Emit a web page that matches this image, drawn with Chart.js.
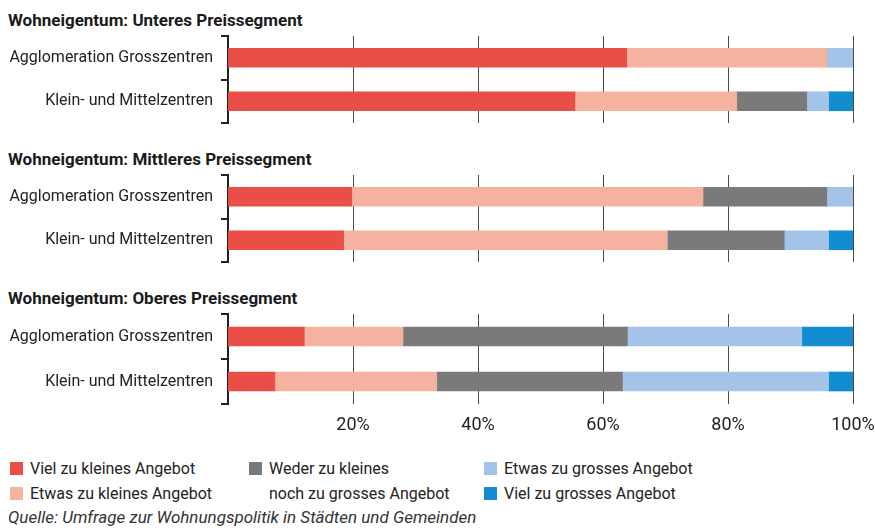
<!DOCTYPE html>
<html>
<head>
<meta charset="utf-8">
<script src="https://cdn.jsdelivr.net/npm/chart.js@4.4.0/dist/chart.umd.min.js"></script>
<style>
  body { margin: 0; background: #fff; font-family: Roboto, "Noto Sans", sans-serif; color: #222; }
  #wrap { position: relative; width: 875px; height: 532px; overflow: hidden; }
  .title { position: absolute; left: 8px; font-weight: bold; font-size: 17px; line-height: 20px; white-space: nowrap; color: #1a1a1a; }
  canvas { position: absolute; left: 0; }
  .leg { position: absolute; font-size: 16px; line-height: 25px; white-space: nowrap; }
  .leg i { position: absolute; left: 0; top: 6px; width: 13px; height: 13px; }
  .leg span { display: block; padding-left: 20px; }
  #source { position: absolute; left: 8px; top: 507px; font-style: italic; font-size: 17px; color: #333; white-space: nowrap; }
</style>
</head>
<body>
<div id="wrap">
  <div class="title" id="t0" style="top:10px"></div>
  <canvas id="c0" width="875" height="93" style="top:33px"></canvas>
  <div class="title" id="t1" style="top:149px"></div>
  <canvas id="c1" width="875" height="93" style="top:172px"></canvas>
  <div class="title" id="t2" style="top:288px"></div>
  <canvas id="c2" width="875" height="130" style="top:311px"></canvas>
  <div id="legend"></div>
  <div id="source">Quelle: Umfrage zur Wohnungspolitik in Städten und Gemeinden</div>
</div>
<script>
const segments = ['Wohneigentum: Unteres Preissegment', 'Wohneigentum: Mittleres Preissegment', 'Wohneigentum: Oberes Preissegment'];
const cities = ['Agglomeration Grosszentren', 'Klein- und Mittelzentren'];
const answers = ['Viel zu kleines Angebot', 'Etwas zu kleines Angebot', 'Weder zu kleines noch zu grosses Angebot', 'Etwas zu grosses Angebot', 'Viel zu grosses Angebot'];
const colors = ['#E94F47', '#F5B2A0', '#7A7A7A', '#A3C4E8', '#128DD0'];
const xTicks = [20, 40, 60, 80, 100];

// Anteile in % je Antwort (Reihenfolge wie answers)
const unteresAgglo = [63.8, 32.0, 0, 4.2, 0];
const unteresKlein = [55.5, 25.9, 11.2, 3.5, 3.9];
const mittleresAgglo = [19.8, 56.2, 19.8, 4.2, 0];
const mittleresKlein = [18.5, 51.8, 18.7, 7.1, 3.9];
const oberesAgglo = [12.2, 15.8, 35.9, 27.9, 8.2];
const oberesKlein = [7.5, 25.9, 29.7, 33.0, 3.9];

const panels = [
  [unteresAgglo, unteresKlein],
  [mittleresAgglo, mittleresKlein],
  [oberesAgglo, oberesKlein],
];

const FONT = 'Roboto, "Noto Sans", sans-serif';

function makePanel(idx) {
  const rows = panels[idx];
  const showTicks = idx === panels.length - 1;
  document.getElementById('t' + idx).textContent = segments[idx];
  return new Chart(document.getElementById('c' + idx), {
    type: 'bar',
    data: {
      labels: cities,
      datasets: answers.map((a, i) => ({
        label: a,
        data: rows.map(r => r[i]),
        backgroundColor: colors[i],
        borderWidth: 0,
        barThickness: 19,
      })),
    },
    options: {
      indexAxis: 'y',
      responsive: false,
      animation: false,
      layout: { padding: { left: 0, right: 22, top: 3, bottom: 0 } },
      plugins: { legend: { display: false }, tooltip: { enabled: false } },
      scales: {
        x: {
          stacked: true,
          min: 0,
          max: 100,
          afterBuildTicks: s => { s.ticks = xTicks.map(v => ({ value: v })); },
          ticks: {
            display: showTicks,
            callback: v => v + '%',
            color: '#222',
            font: { family: FONT, size: 18 },
            padding: 11,
            maxRotation: 0,
          },
          grid: { color: '#4a4a4a', lineWidth: 1, drawTicks: false },
          border: { display: false },
          afterFit: s => {
            s.height = showTicks ? 37 : 3;
            s.paddingLeft = 0;
            s.paddingRight = 0;
          },
        },
        y: {
          stacked: true,
          ticks: { color: '#222', font: { family: FONT, size: 16 }, padding: 8 },
          grid: { offset: true, drawOnChartArea: false, tickLength: 7, color: '#222', lineWidth: 2 },
          border: { display: true, color: '#222', width: 2 },
          afterFit: s => {
            s.width = 228;
            s.paddingTop = 0;
            s.paddingBottom = 0;
          },
        },
      },
    },
  });
}

panels.forEach((p, i) => makePanel(i));

// Legende in drei Spalten
const legendPos = [
  { left: 10, top: 456 },
  { left: 10, top: 481 },
  { left: 249, top: 456 },
  { left: 484, top: 456 },
  { left: 484, top: 481 },
];
const legend = document.getElementById('legend');
answers.forEach((a, i) => {
  const d = document.createElement('div');
  d.className = 'leg';
  d.style.left = legendPos[i].left + 'px';
  d.style.top = legendPos[i].top + 'px';
  const txt = i === 2 ? 'Weder zu kleines<br>noch zu grosses Angebot' : a;
  d.innerHTML = '<i style="background:' + colors[i] + '"></i><span>' + txt + '</span>';
  legend.appendChild(d);
});
</script>
</body>
</html>
